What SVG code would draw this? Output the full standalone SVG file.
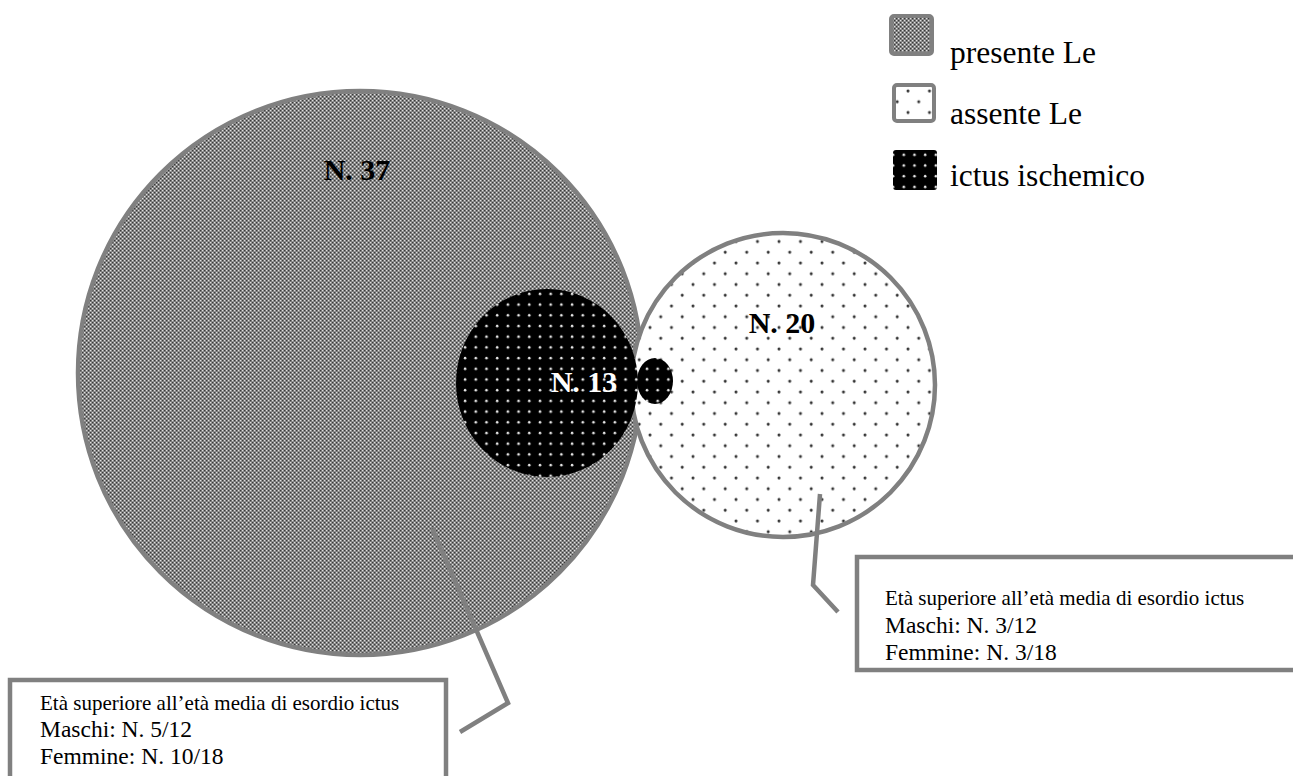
<svg xmlns="http://www.w3.org/2000/svg" width="1293" height="776" viewBox="0 0 1293 776">
<style>
svg{background:#fff}
.legtext{font-family:"Liberation Serif",serif;font-size:31.5px;fill:#000}
.num{font-family:"Liberation Serif",serif;font-size:30px;font-weight:bold}
.c1{font-family:"Liberation Serif",serif;font-size:21px;fill:#000}
.c2{font-family:"Liberation Serif",serif;font-size:23.5px;fill:#000}
.gstroke{stroke:#808080;stroke-width:4.5;fill:none}
</style>
<defs>
<pattern id="pGray" width="4" height="4" patternUnits="userSpaceOnUse">
<rect width="4" height="4" fill="#858585"/>
<rect x="0" y="0" width="1.2" height="1.2" fill="#e0e0e0"/>
<rect x="2" y="2" width="1.2" height="1.2" fill="#e0e0e0"/>
<rect x="2" y="0" width="1.2" height="1.2" fill="#3a3a3a"/>
<rect x="0" y="2" width="1.2" height="1.2" fill="#3a3a3a"/>
</pattern>
<pattern id="pDots" width="21.5" height="21.5" patternUnits="userSpaceOnUse">
<rect width="21.5" height="21.5" fill="#ffffff"/>
<circle cx="5" cy="5" r="1.5" fill="#333"/>
<circle cx="15.75" cy="15.75" r="1.5" fill="#333"/>
</pattern>
<pattern id="pBlack" width="10.7" height="10.7" patternUnits="userSpaceOnUse">
<rect width="10.7" height="10.7" fill="#000"/>
<circle cx="5" cy="5" r="1.3" fill="#e8e8e8"/>
</pattern>
</defs>

<g id="node-presente">
<circle cx="360" cy="373" r="282" fill="url(#pGray)" stroke="#808080" stroke-width="4.5"/>
<text class="num" x="357" y="180" text-anchor="middle" fill="#000">N. 37</text>
</g>

<g id="node-assente">
<circle cx="783" cy="385" r="152" fill="url(#pDots)" stroke="#808080" stroke-width="4.5"/>
<text class="num" x="782" y="333" text-anchor="middle" fill="#000">N. 20</text>
</g>

<g id="node-ictus">
<ellipse cx="547" cy="383" rx="91" ry="94" fill="url(#pBlack)"/>
<ellipse cx="655" cy="381" rx="18" ry="23" fill="url(#pBlack)"/>
<text class="num" x="584" y="392" text-anchor="middle" fill="#fff">N. 13</text>
</g>

<g id="connectors">
<polyline class="gstroke" points="432,528 508,703 460,732"/>
<polyline class="gstroke" points="820,494 813,585 838,612"/>
</g>

<g id="callout-left">
<rect x="10" y="680" width="436" height="110" fill="#fff" stroke="#808080" stroke-width="4.5"/>
<text class="c1" x="40" y="710">Età superiore all’età media di esordio ictus</text>
<text class="c2" x="40" y="737">Maschi: N. 5/12</text>
<text class="c2" x="40" y="764">Femmine: N. 10/18</text>
</g>

<g id="callout-right">
<rect x="857" y="557" width="450" height="113" fill="#fff" stroke="#808080" stroke-width="4.5"/>
<text class="c1" x="885" y="605">Età superiore all’età media di esordio ictus</text>
<text class="c2" x="885" y="633">Maschi: N. 3/12</text>
<text class="c2" x="885" y="660">Femmine: N. 3/18</text>
</g>

<g id="legend">
<rect x="891" y="16" width="41" height="38" rx="3" fill="url(#pGray)" stroke="#808080" stroke-width="4"/>
<text class="legtext" x="950" y="63">presente Le</text>
<rect x="894" y="85" width="40" height="36" rx="3" fill="url(#pDots)" stroke="#808080" stroke-width="4"/>
<text class="legtext" x="950" y="124">assente Le</text>
<rect x="893" y="150" width="44" height="40" rx="3" fill="url(#pBlack)"/>
<text class="legtext" x="950" y="186">ictus ischemico</text>
</g>
</svg>
